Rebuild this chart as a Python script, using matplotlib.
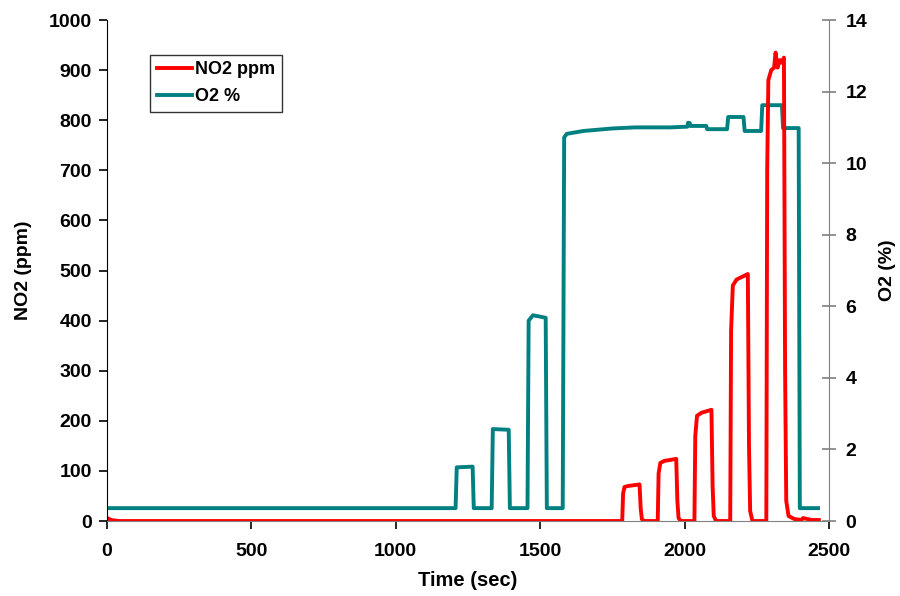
import numpy as np
import matplotlib.pyplot as plt

plt.rcParams['font.family'] = ['Liberation Sans', 'DejaVu Sans']
plt.rcParams['font.weight'] = 'bold'

# O2 trace (%), breakpoints
o2_time = [0, 1207, 1211, 1266, 1270, 1332, 1336, 1391, 1395, 1456, 1460, 1475, 1519, 1523,
           1578, 1583, 1592, 1650, 1750, 1830, 1950, 2010, 2012, 2018, 2020, 2075, 2078,
           2147, 2151, 2204, 2208, 2265, 2269, 2337, 2341, 2395, 2399, 2462]
o2_pct = [0.36, 0.36, 1.50, 1.52, 0.36, 0.36, 2.57, 2.55, 0.36, 0.36, 5.60, 5.75, 5.68, 0.36,
          0.36, 10.72, 10.82, 10.90, 10.97, 11.00, 11.00, 11.02, 11.13, 11.12, 11.04, 11.04, 10.95,
          10.95, 11.29, 11.29, 10.90, 10.90, 11.62, 11.62, 10.98, 10.98, 0.36, 0.36]

# NO2 trace (ppm)
no2_time = [0, 15, 40,
            1784, 1787, 1792, 1805, 1844, 1848, 1852, 1860,
            1907, 1910, 1916, 1930, 1971, 1975, 1979, 1987,
            2034, 2037, 2043, 2058, 2093, 2097, 2101, 2109,
            2158, 2161, 2167, 2180, 2219, 2223, 2227, 2235,
            2283, 2286, 2290, 2300, 2310, 2315, 2322, 2330, 2336, 2344, 2348, 2352, 2360,
            2380, 2405, 2410, 2440, 2465]
no2_ppm = [6, 2, 0,
           0, 55, 68, 70, 73, 25, 4, 0,
           0, 95, 116, 120, 124, 40, 6, 0,
           0, 170, 210, 216, 222, 70, 10, 0,
           0, 380, 470, 482, 493, 150, 20, 0,
           0, 700, 880, 900, 905, 935, 905, 920, 915, 925, 300, 40, 10,
           4, 2, 6, 2, 2]

red = '#FF0000'
teal = '#008080'

fig = plt.figure(figsize=(9, 5.96), dpi=100)
ax = fig.add_axes([0.1189, 0.1258, 0.8022, 0.8406])
ax2 = ax.twinx()
ax.set_zorder(ax2.get_zorder() + 1)
ax.patch.set_visible(False)

l1, = ax.plot(no2_time, no2_ppm, color=red, lw=2.8, label='NO2 ppm')
l2, = ax2.plot(o2_time, o2_pct, color=teal, lw=2.8, label='O2 %')

ax.set_xlim(0, 2500)
ax.set_ylim(0, 1000)
ax2.set_ylim(0, 14)
ax.set_xticks(np.arange(0, 2501, 500))
ax.set_yticks(np.arange(0, 1001, 100))
ax2.set_yticks(np.arange(0, 15, 2))

for a in (ax, ax2):
    a.spines['top'].set_visible(False)
ax.spines['left'].set_color('black')
ax.spines['bottom'].set_color('#808080')
ax.spines['right'].set_visible(False)
ax2.spines['left'].set_visible(False)
ax2.spines['bottom'].set_visible(False)
ax2.spines['right'].set_color('#808080')

ax.tick_params(axis='both', labelsize=14, direction='out', length=6, width=1.2)
ax.tick_params(axis='x', pad=10, colors='black')
ax.tick_params(axis='y', pad=5)
ax2.tick_params(axis='y', labelsize=14, direction='inout', length=10, width=1.2,
                color='#808080', labelcolor='black', pad=7)

ax.set_xlabel('Time (sec)', fontsize=14.5, fontweight='bold', labelpad=8)
ax.set_ylabel('NO2 (ppm)', fontsize=14, fontweight='bold', labelpad=12)
ax2.set_ylabel('O2 (%)', fontsize=14, fontweight='bold', labelpad=8)

leg = ax.legend(handles=[l1, l2], loc='upper left', bbox_to_anchor=(0.06, 0.93),
                fontsize=13, frameon=True, fancybox=False, edgecolor='black',
                handlelength=1.95, handletextpad=0.2, borderpad=0.35, labelspacing=0.55,
                borderaxespad=0)
leg.get_frame().set_linewidth(1.0)

fig.savefig('out.png', dpi=100)
